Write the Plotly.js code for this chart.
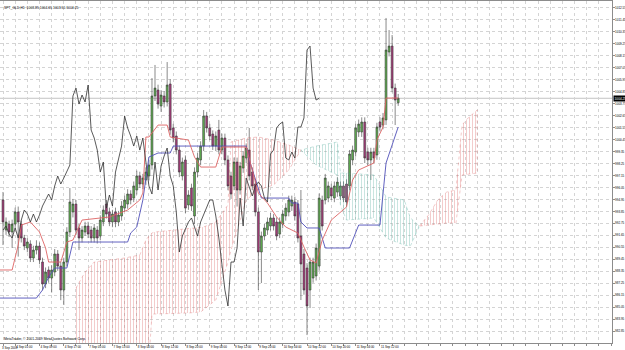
<!DOCTYPE html>
<html><head><meta charset="utf-8">
<script src="https://cdn.plot.ly/plotly-3.0.1.min.js"></script>
<style>html,body{margin:0;padding:0;background:#fff;}#chart{width:625px;height:350px;}</style>
</head><body><div id="chart"></div>
<script>
const symbol = "SPT_GLD,H1";
const firstDateLabel = "3 Sep 2009";
const copyrightText = "MetaTrader, \u00a9 2001-2009 MetaQuotes Software Corp.";

const openP = [994.90,992.14,992.69,991.96,992.69,993.80,992.69,991.41,990.49,990.86,
989.57,990.30,990.67,989.20,987.18,988.47,987.73,988.28,989.94,988.83,
986.63,989.20,991.96,993.80,994.53,992.33,991.41,991.96,992.51,992.14,
991.41,992.14,991.59,992.88,994.53,993.80,992.88,993.80,992.88,993.43,
994.16,994.53,995.45,995.08,995.82,997.11,996.37,996.74,997.11,998.12,
1004.46,1005.01,1003.54,1004.46,1003.91,1005.56,1001.52,1000.78,999.49,997.11,
998.58,994.44,996.00,993.43,997.47,998.58,999.86,1002.62,1001.52,1000.97,
999.86,1001.33,999.49,1000.60,998.58,997.11,996.19,998.39,995.82,997.84,
998.76,999.49,997.47,996.37,993.80,990.12,991.59,992.14,992.51,993.25,
992.88,991.77,992.69,993.43,993.80,994.35,994.72,994.53,991.59,989.94,
988.65,986.63,987.73,987.92,988.83,994.90,994.90,995.08,996.00,995.08,
995.63,995.27,996.19,996.37,996.19,998.58,999.31,1001.15,1001.15,1002.07,
999.31,998.58,999.31,999.04,1002.07,1001.79,1002.26,1008.50,1009.05,1005.19,
1003.85];
const highP = [995.64,993.3,993.0,993.1,994.2,994.3,993.0,991.7,991.4,991.2,
990.7,991.2,991.0,989.6,988.7,988.8,988.9,990.4,990.3,989.2,
989.6,992.4,996.0,995.0,994.9,992.7,992.5,992.9,992.9,992.5,
992.7,992.5,993.5,994.4,994.9,994.2,994.0,994.2,993.9,994.8,
995.3,995.9,995.8,996.6,997.6,997.5,997.3,997.9,998.6,1006.11,
1007.31,1005.5,1005.0,1004.9,1007.58,1006.0,1001.9,1001.2,999.9,998.8,
999.0,995.8,996.4,997.9,999.2,1000.3,1003.17,1003.0,1001.9,1001.3,
1001.2,1002.26,1001.0,1001.0,999.0,997.5,998.8,998.8,998.4,999.4,
1000.1,1001.52,997.9,996.8,994.2,992.0,992.7,993.3,993.7,993.6,
993.3,993.3,994.0,994.6,995.3,995.3,995.2,994.9,995.82,990.4,
989.1,989.6,989.6,990.9,995.5,995.3,997.3,996.6,996.4,996.6,
997.0,996.6,996.6,996.8,999.5,999.9,1001.9,1002.3,1002.5,1002.5,
999.7,999.7,999.7,1002.0,1002.5,1002.9,1011.63,1010.52,1010.06,1005.6,
1004.65];
const lowP = [990.76,991.7,991.5,990.5,992.3,989.7,991.0,990.3,990.1,989.2,
989.2,989.9,989.0,986.6,986.8,987.3,986.4,987.9,988.4,985.7,
985.25,988.8,991.5,993.3,991.7,990.3,991.0,991.6,991.4,991.0,
991.0,990.9,991.2,992.5,993.2,992.5,992.4,992.4,992.5,993.0,
993.8,994.1,994.5,994.7,995.4,996.0,995.9,996.3,996.7,997.7,
1004.0,1003.3,1003.0,1003.4,1003.5,1000.9,1000.2,999.1,997.0,996.7,
993.7,994.0,993.9,992.7,997.0,998.1,999.4,1001.1,1000.4,999.5,
999.4,999.1,999.1,998.1,995.8,995.0,995.8,994.3,995.4,997.4,
998.3,996.7,995.8,993.4,986.63,987.27,991.2,991.7,992.1,992.1,
991.2,991.4,992.3,993.0,993.4,993.9,993.0,991.0,985.71,986.2,
982.49,984.97,987.3,987.5,988.4,992.1,994.5,994.7,994.9,994.7,
995.2,994.9,994.7,994.3,995.8,998.1,998.9,1000.7,1000.7,998.3,
998.1,996.74,998.3,998.6,1001.2,1001.4,1001.8,1008.1,1004.8,1001.79,
1003.55];
const closeP = [992.88,992.88,991.96,992.69,993.80,992.88,991.41,990.67,991.04,989.57,
990.30,990.67,989.39,987.18,988.28,987.73,988.47,989.94,988.83,986.63,
989.20,991.96,994.72,994.53,992.14,991.41,992.14,992.51,991.77,991.41,
992.33,991.41,993.06,993.98,993.61,992.88,993.61,992.88,993.52,994.35,
994.90,995.45,994.90,996.19,997.11,996.37,996.92,997.47,998.12,1004.46,
1005.19,1003.72,1004.55,1003.91,1005.47,1001.33,1000.60,999.49,997.47,998.39,
994.16,995.36,994.35,997.47,998.76,999.86,1002.62,1001.52,1000.78,999.86,
1000.78,999.49,1000.60,998.58,996.19,995.45,998.39,995.82,998.02,998.94,
999.68,997.11,996.19,993.80,990.12,991.59,992.33,992.88,993.25,992.51,
991.59,992.88,993.61,994.16,994.90,994.90,993.43,991.41,989.02,986.63,
985.16,989.20,989.20,990.49,995.08,992.51,996.92,996.19,995.27,996.19,
996.55,996.19,995.08,994.72,999.13,999.49,1001.52,1001.88,1002.07,998.76,
998.58,999.31,998.76,1001.61,1001.61,1002.44,1008.69,1009.05,1005.19,1004.09,
1004.25];

const tenkanX = [-1,3,5,6,9,12,14,15,19,21,23,26,35,41,45,46,47,48,51,54,55,61,63,65,70,72,80,82,84,87,90,93,97,99,101,103,105,108,113,115,117,122,123,125,126,130];
const tenkanY = [988.47,988.47,990.76,992.60,992.88,991.96,990.49,989.20,989.20,991.04,991.22,993.06,993.34,993.98,994.90,995.54,1000.69,1000.69,1001.79,1001.79,1000.69,1000.41,998.85,997.93,997.93,999.77,999.77,997.66,995.54,994.62,993.34,992.42,991.87,990.58,989.39,989.11,991.22,993.06,994.26,996.74,997.66,998.30,1000.41,1001.61,1004.27,1004.27];

const kijunX = [-1,11,13,15,17,21,23,41,42,44,46,48,51,55,56,80,81,84,85,94,95,97,98,100,104,106,114,117,124,126,130];
const kijunY = [985.89,985.89,986.63,987.82,988.65,988.65,991.04,991.04,991.87,992.42,994.90,998.85,999.22,999.22,999.86,999.86,998.58,996.09,995.08,995.08,994.62,994.62,992.88,992.33,992.33,990.49,990.49,992.60,992.60,998.30,1001.61];

const cloudX = [24,27,30,40,45,47,48,49,50,61,65,66,70,74,75,80,84,89,94,98,103,110,111,113,122,126,132,134,137,140,143,146,149,151,153,156];
const spanA = [986.81,988.28,989.20,989.57,989.85,991.22,991.59,991.87,991.96,992.23,992.33,992.42,992.88,994.44,1000.23,1000.60,1000.69,1000.41,999.95,999.49,998.12,997.20,994.44,993.06,993.25,991.41,990.76,990.67,992.51,993.52,994.90,995.64,995.82,1001.79,1002.44,1003.17];
const spanB = [980.20,980.20,980.20,980.20,980.20,980.20,980.20,984.42,984.42,984.52,984.61,984.79,985.71,989.20,990.30,994.90,995.82,996.28,997.66,999.49,999.86,1000.23,997.38,997.38,997.20,995.18,994.90,993.25,992.51,992.60,992.69,992.79,992.79,997.20,997.29,997.38];

const chikouShift = 26;
const dateTickBars = [4,12,20,28,36,44,52,60,68,76,84,92,100,108,116,124];
const dateTickText = ["4 Sep 01:00","4 Sep 09:00","4 Sep 17:00","7 Sep 05:00","7 Sep 13:00","8 Sep 04:00","8 Sep 12:00","8 Sep 20:00","9 Sep 04:00","9 Sep 12:00","9 Sep 20:00","10 Sep 04:00","10 Sep 12:00","10 Sep 20:00","11 Sep 04:00","11 Sep 12:00"];

const barIdx = openP.map((_, i) => i);
const chikouX = barIdx.slice(chikouShift).map(i => i - chikouShift);
const chikouY = closeP.slice(chikouShift);

function buildCloud(xs, a, b) {
  const up = {x: [], y: []}, dn = {x: [], y: []};
  let start = 0;
  for (let k = 1; k < xs.length; k++) {
    if (k === xs.length - 1 || a[k] === b[k]) {
      let s = 0;
      for (let m = start; m <= k; m++) s += a[m] - b[m];
      const t = s >= 0 ? up : dn;
      for (let m = start; m <= k; m++) { t.x.push(xs[m]); t.y.push(a[m]); }
      for (let m = k; m >= start; m--) { t.x.push(xs[m]); t.y.push(b[m]); }
      t.x.push(null); t.y.push(null);
      start = k;
    }
  }
  return [up, dn];
}
const [redCloud, tealCloud] = buildCloud(cloudX, spanA, spanB);

const FONT = 'Liberation Sans, Arial, sans-serif';
const traces = [
  {type: 'scatter', mode: 'lines', x: redCloud.x, y: redCloud.y, fill: 'toself',
   fillcolor: 'rgba(0,0,0,0)',
   fillpattern: {shape: '|', size: 3, solidity: 0.25, fgcolor: 'rgba(215,90,90,0.42)', bgcolor: 'rgba(255,255,255,0)'},
   line: {color: 'rgba(215,90,90,0.55)', width: 0.6, dash: 'dot'}, hoverinfo: 'skip', showlegend: false},
  {type: 'scatter', mode: 'lines', x: tealCloud.x, y: tealCloud.y, fill: 'toself',
   fillcolor: 'rgba(0,0,0,0)',
   fillpattern: {shape: '|', size: 3, solidity: 0.25, fgcolor: 'rgba(80,170,155,0.42)', bgcolor: 'rgba(255,255,255,0)'},
   line: {color: 'rgba(80,170,155,0.55)', width: 0.6, dash: 'dot'}, hoverinfo: 'skip', showlegend: false},
  {type: 'candlestick', x: barIdx, open: openP, high: highP, low: lowP, close: closeP,
   increasing: {line: {color: '#3a3a3a', width: 0.6}, fillcolor: '#5fb050'},
   decreasing: {line: {color: '#3a3a3a', width: 0.6}, fillcolor: '#a83a7a'},
   whiskerwidth: 0, hoverinfo: 'skip', showlegend: false},
  {type: 'scatter', mode: 'lines', x: kijunX, y: kijunY, line: {color: 'rgb(80,80,185)', width: 0.9}, hoverinfo: 'skip', showlegend: false},
  {type: 'scatter', mode: 'lines', x: tenkanX, y: tenkanY, line: {color: 'rgb(222,100,100)', width: 0.9}, hoverinfo: 'skip', showlegend: false},
  {type: 'scatter', mode: 'lines', x: chikouX, y: chikouY, line: {color: '#303030', width: 0.8}, hoverinfo: 'skip', showlegend: false}
];

const gridVals = [];
for (let v = 0; v <= 200; v += 4) gridVals.push(v);
const gridText = gridVals.map(v => { const k = dateTickBars.indexOf(v); return k >= 0 ? dateTickText[k] : ''; });

const last = closeP.length - 1;
const layout = {
  width: 625, height: 350,
  margin: {l: 0, r: 13, t: 1, b: 7},
  paper_bgcolor: '#ffffff', plot_bgcolor: '#ffffff',
  showlegend: false,
  boxgap: 0.12,
  font: {family: FONT, size: 3, color: '#000'},
  xaxis: {range: [-0.99, 200.33], rangeslider: {visible: false}, tickmode: 'array', tickvals: gridVals, ticktext: gridText,
    tickangle: 0, ticklabelposition: 'outside right', tickfont: {size: 3, family: FONT, color: '#000'},
    showgrid: true, gridcolor: '#d4d4d4', griddash: 'dot', gridwidth: 1,
    showline: true, linecolor: '#8c8c8c', linewidth: 1, mirror: true, ticks: 'outside', ticklen: 1.5, tickcolor: '#8c8c8c', zeroline: false, fixedrange: true},
  yaxis: {range: [981.76, 1013.19], side: 'right', tickmode: 'linear', tick0: 981.75, dtick: 1.1, tickformat: '.2f',
    tickfont: {size: 3, family: FONT, color: '#000'},
    showgrid: true, gridcolor: '#d4d4d4', griddash: 'dot', gridwidth: 1,
    showline: true, linecolor: '#8c8c8c', linewidth: 1, mirror: true, ticks: 'outside', ticklen: 1.5, tickcolor: '#8c8c8c', zeroline: false, fixedrange: true},
  shapes: [
    {type: 'line', xref: 'paper', x0: 0, x1: 1, yref: 'y', y0: closeP[last], y1: closeP[last], line: {color: '#c4c4c4', width: 1}, layer: 'below'}
  ],
  annotations: [
    {xref: 'paper', yref: 'paper', x: 0.004, y: 0.99, xanchor: 'left', yanchor: 'top', showarrow: false,
     text: symbol + '  ' + [openP[last], highP[last], lowP[last], closeP[last]].map(v => v.toFixed(2)).join(' '),
     font: {size: 3.4, family: FONT, color: '#000'}},
    {xref: 'paper', yref: 'paper', x: 0.003, y: 0.012, xanchor: 'left', yanchor: 'middle', showarrow: false,
     text: copyrightText, font: {size: 3.4, family: FONT, color: '#000'}},
    {xref: 'paper', yref: 'paper', x: 0, y: 0, xanchor: 'left', yanchor: 'top', yshift: -1, showarrow: false,
     text: firstDateLabel, font: {size: 3, family: FONT, color: '#000'}},
    {xref: 'paper', yref: 'y', x: 1, y: closeP[last], xanchor: 'left', yanchor: 'middle', xshift: 1, showarrow: false,
     text: closeP[last].toFixed(2), bgcolor: '#000000', borderpad: 0.6, font: {size: 3.2, family: FONT, color: '#ffffff'}}
  ]
};
Plotly.newPlot('chart', traces, layout, {staticPlot: true, displayModeBar: false});
</script></body></html>
